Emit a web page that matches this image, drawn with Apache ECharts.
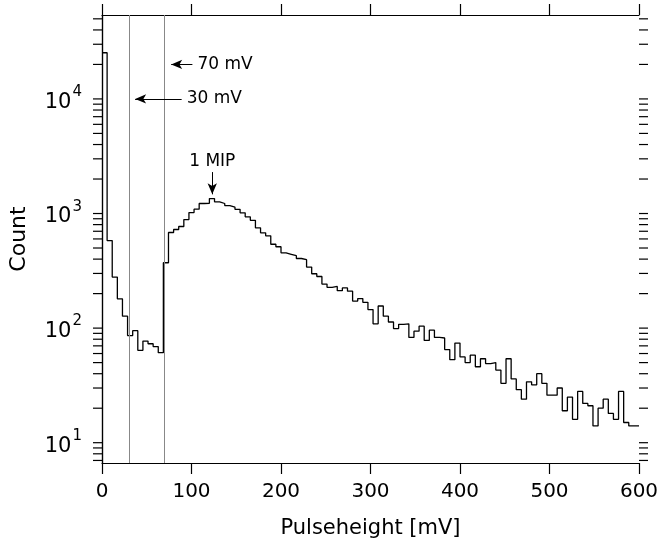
<!DOCTYPE html>
<html>
<head>
<meta charset="utf-8">
<script src="https://cdn.jsdelivr.net/npm/echarts@6/dist/echarts.min.js"></script>
<style>
  html, body { margin: 0; padding: 0; background: #fff; }
  #chart { width: 662px; height: 547px; }
</style>
</head>
<body>
<div id="chart"></div>
<script>
// ---- data ----
const xRange = [0, 600];            // mV
const yRange = [6.65, 54000];       // counts (log axis)
const xTicks = [0, 100, 200, 300, 400, 500, 600];
const counts = [25300, 581, 279, 180, 127, 86, 95, 64, 77, 73, 69, 61, 372, 683, 725, 770, 886, 1020, 1092, 1223,
  1227, 1351, 1265, 1223, 1174, 1137, 1088, 1014, 936, 872, 750, 679, 639, 539, 513, 454, 441, 428, 405, 395,
  341, 298, 282, 242, 227, 231, 212, 224, 210, 172, 181, 168, 145, 109, 156, 127, 113, 99, 108, 109,
  83, 94, 104, 78, 96, 83, 82, 65, 53, 74, 56, 50, 58, 46, 54, 49, 50, 43, 33, 54,
  36, 29, 24, 34, 32, 40, 33, 26, 26, 30, 19, 25, 16, 28, 22, 21, 14, 20, 24, 18,
  16, 28, 15, 14, 14];
const cutLines = [30, 70];          // mV
const arrow70 = { from: [101, 20000], to: [77.3, 20000], text: '70 mV' };
const arrow30 = { from: [89, 10000], to: [37, 10000], text: '30 mV' };
const arrowMIP = { from: [123.2, 2300], to: [123.2, 1470], text: '1 MIP' };
const yTickValues = [7, 8, 9, 10, 20, 30, 40, 50, 60, 70, 80, 90, 100, 200, 300, 400, 500, 600, 700, 800, 900,
  1000, 2000, 3000, 4000, 5000, 6000, 7000, 8000, 9000, 10000, 20000, 30000, 40000, 50000];

// ---- build ----
const nBins = counts.length;
const binW = (xRange[1] - xRange[0]) / nBins;
const histData = counts.map((c, i) => [xRange[0] + i * binW, c]);
histData.push([xRange[1], counts[nBins - 1]]);

const FONT = 'DejaVu Sans';
const chart = echarts.init(document.getElementById('chart'), null, { renderer: 'canvas' });

function yLabel(v) {
  const l = Math.log10(v);
  const e = Math.round(l);
  if (Math.abs(l - e) > 1e-6) return '';
  return '{b|10}{s|' + e + '}';
}

const axisLineStyle = { color: '#000', width: 1.2 };

function arrowLine(a, pos, dist) {
  return [
    { coord: a.from, symbol: 'none', label: { show: true, position: pos, formatter: a.text, distance: dist } },
    { coord: a.to, symbol: 'arrow', symbolSize: [7, 11] }
  ];
}

chart.setOption({
  animation: false,
  backgroundColor: '#fff',
  textStyle: { fontFamily: FONT },
  grid: { left: 101, right: 23, top: 15, bottom: 84, containLabel: false },
  xAxis: [
    {
      type: 'value', min: xRange[0], max: xRange[1], interval: 100, position: 'bottom',
      name: 'Pulseheight [mV]', nameLocation: 'middle', nameGap: 55,
      nameTextStyle: { fontFamily: FONT, fontSize: 21, color: '#000' },
      axisLine: { show: true, lineStyle: axisLineStyle },
      axisTick: { show: true, inside: false, length: 11, lineStyle: { color: '#000', width: 1.2 } },
      axisLabel: { show: true, margin: 19, fontFamily: FONT, fontSize: 20, color: '#000',
        customValues: xTicks },
      splitLine: { show: false }
    },
    {
      type: 'value', min: xRange[0], max: xRange[1], interval: 100, position: 'top',
      axisLine: { show: true, lineStyle: axisLineStyle },
      axisTick: { show: true, inside: false, length: 11, lineStyle: { color: '#000', width: 1.2 } },
      axisLabel: { show: false },
      splitLine: { show: false }
    }
  ],
  yAxis: [
    {
      type: 'log', logBase: 10, min: yRange[0], max: yRange[1], position: 'left',
      name: 'Count', nameLocation: 'middle', nameGap: 72, nameRotate: 90,
      nameTextStyle: { fontFamily: FONT, fontSize: 22, color: '#000' },
      axisLine: { show: true, lineStyle: axisLineStyle },
      axisTick: { show: false },
      axisLabel: {
        show: true, margin: 20, formatter: yLabel, color: '#000',
        rich: {
          b: { fontFamily: FONT, fontSize: 21, color: '#000', verticalAlign: 'bottom', padding: [0, 0, 0, 0] },
          s: { fontFamily: FONT, fontSize: 15, color: '#000', verticalAlign: 'bottom', padding: [0, 0, 13, 1] }
        }
      },
      splitLine: { show: false }
    },
    {
      type: 'log', logBase: 10, min: yRange[0], max: yRange[1], position: 'right',
      axisLine: { show: true, lineStyle: axisLineStyle },
      axisTick: { show: false },
      axisLabel: { show: false },
      splitLine: { show: false }
    }
  ],
  series: [
    {
      type: 'line', name: 'counts', step: 'end', data: histData,
      showSymbol: false, symbol: 'none', z: 3,
      lineStyle: { color: '#000', width: 1.3 },
      markLine: {
        silent: true, symbol: 'none', animation: false,
        lineStyle: { color: '#888', width: 1, type: 'solid' },
        label: { show: false },
        data: cutLines.map(v => ({ xAxis: v }))
      }
    },
    {
      type: 'line', name: 'annotations', data: [], z: 4,
      markLine: {
        silent: true, animation: false,
        lineStyle: { color: '#000', width: 1, type: 'solid' },
        label: { show: true, color: '#000', fontFamily: FONT, fontSize: 17, distance: 5 },
        data: [arrowLine(arrow70, 'start', 5), arrowLine(arrow30, 'start', 5), arrowLine(arrowMIP, 'start', 2)]
      }
    },
    {
      type: 'custom', name: 'yticks', silent: true, clip: false, z: 5,
      data: yTickValues.map(v => [xRange[0], v]),
      encode: { x: 0, y: 1 },
      renderItem: function (params, api) {
        const p = api.coord([api.value(0), api.value(1)]);
        const cs = params.coordSys;
        const st = { stroke: '#000', lineWidth: 1.2 };
        return {
          type: 'group', children: [
            { type: 'line', shape: { x1: cs.x - 9, y1: p[1], x2: cs.x, y2: p[1] }, style: st },
            { type: 'line', shape: { x1: cs.x + cs.width, y1: p[1], x2: cs.x + cs.width + 9, y2: p[1] }, style: st }
          ]
        };
      }
    }
  ]
});
</script>
</body>
</html>
